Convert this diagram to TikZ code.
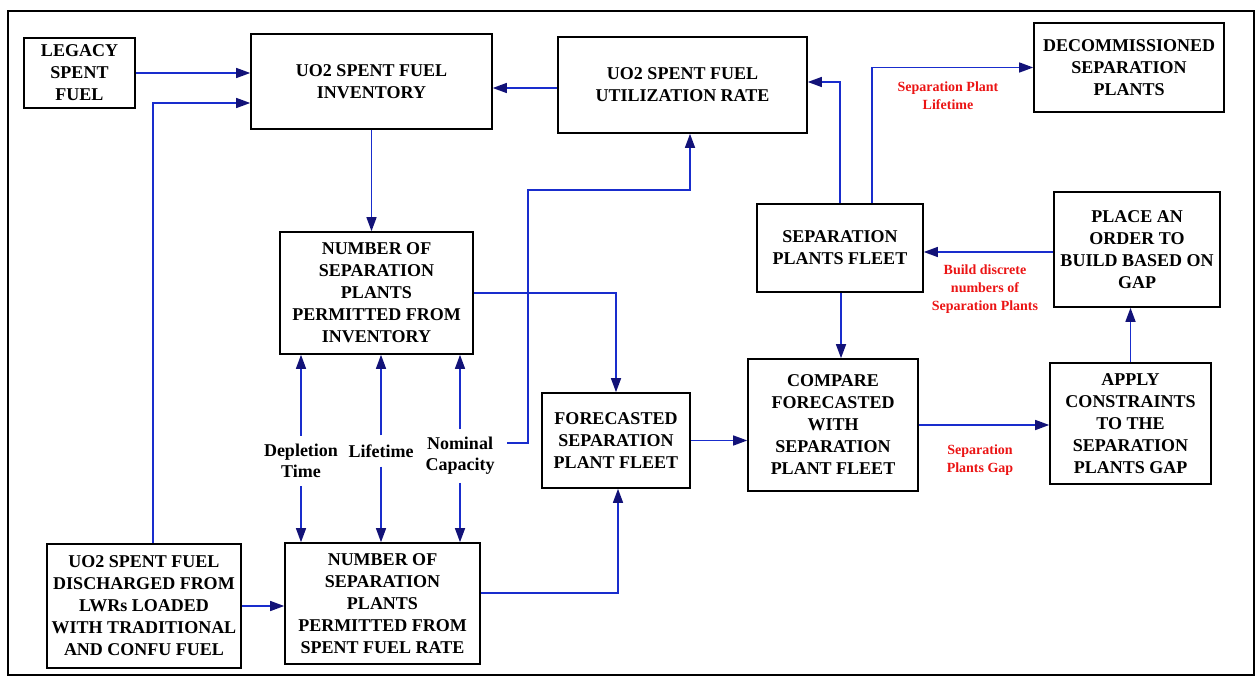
\documentclass[tikz,border=0pt]{standalone}
\usepackage{fontspec}
\setmainfont{Liberation Serif}
\usetikzlibrary{arrows.meta}
\definecolor{flow}{RGB}{25,45,205}
\definecolor{tipcol}{RGB}{18,18,120}
\definecolor{note}{RGB}{235,20,20}
\begin{document}
\begin{tikzpicture}[x=1pt,y=-1pt,
  box/.style={draw=black,line width=1.6pt,fill=white,inner sep=0pt,align=center,
    font=\fontsize{18}{22}\selectfont\bfseries},
  lbl/.style={inner sep=6pt,align=center,font=\fontsize{18}{21}\selectfont\bfseries},
  rednote/.style={inner sep=2pt,align=center,text=note,font=\fontsize{14}{18}\selectfont\bfseries},
  arr/.style={draw=flow,line width=1.4pt,-{Triangle[length=14pt,width=10pt,color=tipcol]}}]
\useasboundingbox (0,0) rectangle (1257,679);
% outer frame
\draw[line width=1.8pt] (8,11) rectangle (1254,675);

% blocks
\node[box,minimum width=111pt,minimum height=70pt] (legacy) at (79.5,73) {LEGACY\\SPENT\\FUEL};
\node[box,minimum width=241pt,minimum height=95pt] (inv) at (371.5,81.5) {UO2 SPENT FUEL\\INVENTORY};
\node[box,minimum width=249pt,minimum height=96pt] (util) at (682.5,85) {UO2 SPENT FUEL\\UTILIZATION RATE};
\node[box,minimum width=190pt,minimum height=89pt] (decom) at (1129,67.5) {DECOMMISSIONED\\SEPARATION\\PLANTS};
\node[box,minimum width=193pt,minimum height=122pt] (pinv) at (376.5,293) {NUMBER OF\\SEPARATION\\PLANTS\\PERMITTED FROM\\INVENTORY};
\node[box,minimum width=166pt,minimum height=88pt] (fleet) at (840,248) {SEPARATION\\PLANTS FLEET};
\node[box,minimum width=166pt,minimum height=115pt] (order) at (1137,249.5) {PLACE AN\\ORDER TO\\BUILD BASED ON\\GAP};
\node[box,minimum width=148pt,minimum height=95pt] (fore) at (616,440.5) {FORECASTED\\SEPARATION\\PLANT FLEET};
\node[box,minimum width=170pt,minimum height=132pt] (comp) at (833,425) {COMPARE\\FORECASTED\\WITH\\SEPARATION\\PLANT FLEET};
\node[box,minimum width=161pt,minimum height=121pt] (apply) at (1130.5,423.5) {APPLY\\CONSTRAINTS\\TO THE\\SEPARATION\\PLANTS GAP};
\node[box,minimum width=194pt,minimum height=124pt] (disch) at (144,606) {UO2 SPENT FUEL\\DISCHARGED FROM\\LWRs LOADED\\WITH TRADITIONAL\\AND CONFU FUEL};
\node[box,minimum width=195pt,minimum height=121pt] (prate) at (382.5,603.5) {NUMBER OF\\SEPARATION\\PLANTS\\PERMITTED FROM\\SPENT FUEL RATE};

% parameter labels between the two "permitted" blocks
\node[lbl,inner ysep=8pt] (dep) at (301,461) {Depletion\\Time};
\node[lbl,inner ysep=9pt] (life) at (381,451) {Lifetime};
\node[lbl,inner ysep=8pt] (nom) at (460,456) {Nominal\\Capacity};
\coordinate (capstart) at (507,443);

% red flow notes
\node[rednote] (lifenote) at (948,96) {Separation Plant\\Lifetime};
\node[rednote] (buildnote) at (985,289) {Build discrete\\numbers of\\Separation Plants};
\node[rednote] (gapnote) at (980,460) {Separation\\Plants Gap};

% connectors
\draw[arr] (legacy.east) -- (legacy.east -| inv.west);
\draw[arr] ([xshift=9pt]disch.north) |- ([yshift=-21.5pt]inv.west);
\draw[arr] ([yshift=-3pt]util.west) -- ([yshift=-3pt]util.west -| inv.east);
\draw[arr] (inv.south) -- (inv.south |- pinv.north);
\draw[arr] (pinv.east) -| (fore.north);

\draw[arr] (dep) -- (dep |- pinv.south);
\draw[arr] (dep) -- (dep |- prate.north);
\draw[arr] (life) -- (life |- pinv.south);
\draw[arr] (life) -- (life |- prate.north);
\draw[arr] (nom) -- (nom |- pinv.south);
\draw[arr] (nom) -- (nom |- prate.north);

\draw[arr] (capstart) -- ++(21,0) |- ([xshift=7.5pt,yshift=-56pt]util.south) -- ([xshift=7.5pt]util.south);
\draw[arr] ([yshift=10.5pt]prate.east) -| ([xshift=2pt]fore.south);
\draw[arr] (disch.east) -- (disch.east -| prate.west);
\draw[arr] (fore.east) -- (fore.east -| comp.west);
\draw[arr] (comp.east) -- (comp.east -| apply.west);
\draw[arr] (apply.north) -- (apply.north |- order.south);
\draw[arr] ([yshift=-2.5pt]order.west) -- ([yshift=-2.5pt]order.west -| fleet.east);
\draw[arr] (fleet.north) |- ([yshift=3pt]util.east);
\draw[arr] ([xshift=32pt]fleet.north) |- (decom.west);
\draw[arr] ([xshift=1pt]fleet.south) -- ([xshift=1pt]fleet.south |- comp.north);
\end{tikzpicture}
\end{document}
